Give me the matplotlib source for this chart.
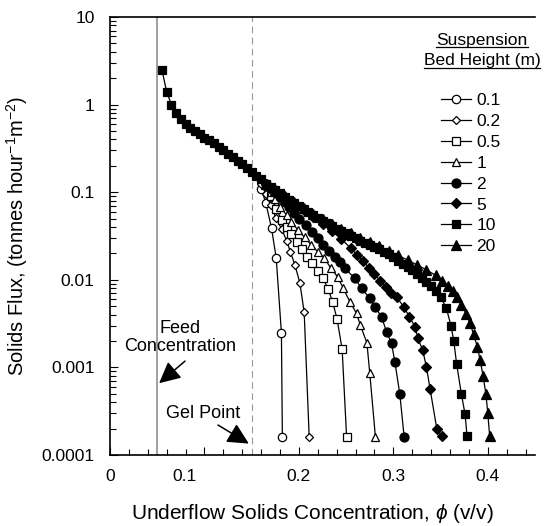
import numpy as np
import matplotlib
matplotlib.use("Agg")
import matplotlib.pyplot as plt
from matplotlib.lines import Line2D
from matplotlib.ticker import FixedLocator, MultipleLocator, LogLocator, NullFormatter
import matplotlib.transforms as mtransforms

plt.rcParams['font.family'] = ['Liberation Sans', 'DejaVu Sans']
plt.rcParams['mathtext.fontset'] = 'custom'
plt.rcParams['mathtext.rm'] = 'Liberation Sans'
plt.rcParams['mathtext.it'] = 'Liberation Sans:italic'

# Bed heights (m) and their curves
heights = ["0.1", "0.2", "0.5", "1", "2", "5", "10", "20"]

phi_01 = [0.160, 0.165, 0.171, 0.176, 0.1815, 0.1825]
flux_01 = [0.11, 0.0753, 0.039, 0.0177, 0.00247, 0.00016]

phi_02 = [0.160, 0.165, 0.170, 0.1757, 0.1817, 0.187, 0.191, 0.1958, 0.201, 0.2056, 0.2109]
flux_02 = [0.125, 0.095, 0.0714, 0.0507, 0.0382, 0.0279, 0.0209, 0.01475, 0.00927, 0.00426, 0.000162]

phi_05 = [0.165, 0.170, 0.176, 0.1817, 0.187, 0.192, 0.1976, 0.2035, 0.2088, 0.2141, 0.2204,
          0.2257, 0.231, 0.2357, 0.2405, 0.2458, 0.2505]
flux_05 = [0.12, 0.09, 0.065, 0.0482, 0.0404, 0.0331, 0.0272, 0.0223, 0.0184, 0.0154, 0.0127,
           0.0104, 0.0078, 0.00562, 0.00354, 0.00161, 0.000162]

phi_1 = [0.165, 0.170, 0.175, 0.180, 0.187, 0.192, 0.199, 0.206, 0.213, 0.220, 0.227, 0.234,
         0.241, 0.247, 0.254, 0.261, 0.265, 0.272, 0.275, 0.281]
flux_1 = [0.125, 0.10, 0.083, 0.068, 0.0549, 0.046, 0.037, 0.0306, 0.025, 0.0209, 0.0176, 0.0135,
          0.0108, 0.0080, 0.0056, 0.00415, 0.00305, 0.00191, 0.00087, 0.000162]

phi_2 = [0.165, 0.170, 0.175, 0.180, 0.185, 0.190, 0.195, 0.200, 0.207, 0.2134, 0.220, 0.2257,
         0.232, 0.238, 0.2435, 0.2487, 0.2593, 0.2663, 0.2751, 0.2804, 0.2875, 0.2928, 0.2981,
         0.3016, 0.3069, 0.3114]
flux_2 = [0.125, 0.112, 0.10, 0.088, 0.077, 0.067, 0.058, 0.050, 0.042, 0.0354, 0.030, 0.025,
          0.0215, 0.0184, 0.0158, 0.0135, 0.0104, 0.0080, 0.00615, 0.00493, 0.00379, 0.00255,
          0.00188, 0.00116, 0.000493, 0.000162]

phi_5 = [0.165, 0.175, 0.185, 0.195, 0.205, 0.215, 0.225, 0.235, 0.245, 0.255, 0.262, 0.268,
         0.274, 0.280, 0.286, 0.292, 0.298, 0.3034, 0.311, 0.317, 0.323, 0.326, 0.331, 0.335,
         0.339, 0.346, 0.351]
flux_5 = [0.125, 0.105, 0.088, 0.074, 0.062, 0.052, 0.043, 0.036, 0.029, 0.023, 0.019, 0.0162,
          0.0138, 0.0117, 0.0098, 0.0082, 0.0071, 0.0064, 0.0049, 0.0038, 0.0029, 0.00215,
          0.00158, 0.00102, 0.00056, 0.0002, 0.000165]

phi_10 = [0.055, 0.060, 0.065, 0.070, 0.075, 0.080, 0.085, 0.090, 0.095, 0.100, 0.105, 0.110,
          0.115, 0.120, 0.125, 0.130, 0.135, 0.140, 0.145, 0.150, 0.155, 0.160, 0.165, 0.170,
          0.175, 0.180, 0.185, 0.190, 0.195, 0.200, 0.205, 0.210, 0.215, 0.220, 0.225, 0.230,
          0.235, 0.240, 0.245, 0.250, 0.255, 0.260, 0.265, 0.270, 0.275, 0.280, 0.285, 0.290,
          0.295, 0.300, 0.305, 0.310, 0.315, 0.320, 0.325, 0.330, 0.335, 0.340, 0.345, 0.350,
          0.356, 0.361, 0.364, 0.367, 0.372, 0.376, 0.378]
flux_10 = [2.5, 1.4, 1.0, 0.80, 0.68, 0.60, 0.54, 0.50, 0.46, 0.42, 0.39, 0.36,
           0.33, 0.30, 0.275, 0.25, 0.23, 0.21, 0.19, 0.17, 0.155, 0.14, 0.125, 0.115,
           0.105, 0.097, 0.089, 0.082, 0.075, 0.069, 0.064, 0.059, 0.055, 0.051, 0.047, 0.044,
           0.041, 0.038, 0.036, 0.034, 0.032, 0.030, 0.028, 0.0265, 0.025, 0.0238, 0.0225, 0.021,
           0.0197, 0.018, 0.0166, 0.0153, 0.0141, 0.0128, 0.0116, 0.0105, 0.0094, 0.0085, 0.0075,
           0.0064, 0.0048, 0.0030, 0.0020, 0.0011, 0.0005, 0.00029, 0.000165]

phi_20 = [0.165, 0.175, 0.185, 0.195, 0.205, 0.215, 0.225, 0.235, 0.245, 0.255, 0.265, 0.275,
          0.285, 0.295, 0.305, 0.315, 0.325, 0.335, 0.345, 0.352, 0.358, 0.363, 0.367, 0.372,
          0.377, 0.381, 0.385, 0.389, 0.392, 0.395, 0.398, 0.400, 0.402]
flux_20 = [0.125, 0.106, 0.09, 0.077, 0.066, 0.057, 0.049, 0.043, 0.038, 0.034, 0.030, 0.027,
           0.024, 0.0215, 0.019, 0.0168, 0.0148, 0.013, 0.0112, 0.0098, 0.0085, 0.0074, 0.0064,
           0.0052, 0.0041, 0.0032, 0.0024, 0.0017, 0.0012, 0.0008, 0.0005, 0.0003, 0.000165]

series_phi = [phi_01, phi_02, phi_05, phi_1, phi_2, phi_5, phi_10, phi_20]
series_flux = [flux_01, flux_02, flux_05, flux_1, flux_2, flux_5, flux_10, flux_20]

feed_phi = 0.05
gel_phi = 0.15

xtick_vals = [0, 0.1, 0.2, 0.3, 0.4]
xtick_labels = ["0", "0.1", "0.2", "0.3", "0.4"]
ytick_vals = [1e-4, 1e-3, 1e-2, 1e-1, 1, 10]
ytick_labels = ["0.0001", "0.001", "0.01", "0.1", "1", "10"]

# marker styles: (marker, facecolor, size)
styles = [("o", "white", 6), ("D", "white", 4.2), ("s", "white", 6), ("^", "white", 6.2),
          ("o", "black", 6.5), ("D", "black", 5), ("s", "black", 6.3), ("^", "black", 6.5)]

fig = plt.figure(figsize=(5.46, 5.26), dpi=100)
ax = fig.add_axes([110 / 546, 71 / 526, 425 / 546, 438 / 526])

handles = []
for phi, flux, (mk, fc, ms), lab in zip(series_phi, series_flux, styles, heights):
    line, = ax.plot(phi, flux, color="black", lw=0.9, marker=mk, ms=ms,
                    mfc=fc, mec="black", mew=0.9, label=lab)
    handles.append(line)

ax.axvline(feed_phi, color="#999999", lw=1.3, zorder=0)
ax.axvline(gel_phi, color="#999999", lw=0.8, ls=(0, (6, 4)), zorder=0)

ax.set_yscale("log")
ax.set_xlim(0, 0.45)
ax.set_ylim(1e-4, 10)

ax.xaxis.set_major_locator(FixedLocator(xtick_vals))
ax.set_xticklabels(xtick_labels)
ax.xaxis.set_minor_locator(MultipleLocator(0.02))
ax.set_yticks(ytick_vals)
ax.set_yticklabels(ytick_labels)
ax.yaxis.set_minor_locator(LogLocator(base=10, subs=np.arange(2, 10)))
ax.yaxis.set_minor_formatter(NullFormatter())

ax.tick_params(which="both", direction="in", labelsize=12.5, width=0.8)
ax.tick_params(which="major", length=6)
ax.tick_params(which="minor", length=4)
ax.tick_params(axis="y", which="major", pad=11)
ax.tick_params(axis="x", which="major", pad=10)

# the "0.1" label sits left of its tick in the original
off = mtransforms.ScaledTranslation(-0.2, 0, fig.dpi_scale_trans)
lbl = ax.get_xticklabels()[1]
lbl.set_transform(lbl.get_transform() + off)

ax.spines["right"].set_visible(False)
for s in ["left", "bottom", "top"]:
    ax.spines[s].set_linewidth(1.2)

ax.set_xlabel(r"Underflow Solids Concentration, $\phi$ (v/v)", fontsize=15)
ax.xaxis.set_label_coords(0.475, -0.108)
ax.set_ylabel(r"Solids Flux, (tonnes hour$^{-1}$m$^{-2}$)", fontsize=14.5, labelpad=8)

arrow_style = dict(arrowstyle="-|>,head_length=1.3,head_width=0.65", color="black", lw=1.1,
                   shrinkA=0, shrinkB=0)
ax.text(0.074, 0.0022, "Feed\nConcentration", ha="center", va="center", fontsize=13,
        linespacing=1.1)
ax.annotate("", xy=(0.052, 0.00066), xytext=(0.0794, 0.00118), arrowprops=arrow_style)
ax.text(0.0984, 0.0003, "Gel Point", ha="center", va="center", fontsize=13)
ax.annotate("", xy=(0.147, 0.000135), xytext=(0.1143, 0.00022), arrowprops=arrow_style)

leg = ax.legend(handles=handles, loc="upper left", bbox_to_anchor=(441 / 546, 1 - 93 / 526),
                bbox_transform=fig.transFigure, frameon=False, fontsize=12.5,
                handlelength=1.7, handletextpad=0.35, labelspacing=0.33,
                borderpad=0, borderaxespad=0)

t1 = fig.text(482 / 546, 1 - 40 / 526, "Suspension", ha="center", va="center", fontsize=12.5)
t2 = fig.text(482 / 546, 1 - 61 / 526, "Bed Height (m)", ha="center", va="center", fontsize=12.5)

fig.canvas.draw()
r = fig.canvas.get_renderer()
inv = fig.transFigure.inverted()
for t in (t1, t2):
    bb = t.get_window_extent(r)
    (x0, y0), (x1, _) = inv.transform([(bb.x0, bb.y0), (bb.x1, bb.y1)])
    fig.add_artist(Line2D([x0, x1], [y0 + 0.001, y0 + 0.001], color="black", lw=0.9,
                          transform=fig.transFigure))

fig.savefig("out.png", dpi=100)
